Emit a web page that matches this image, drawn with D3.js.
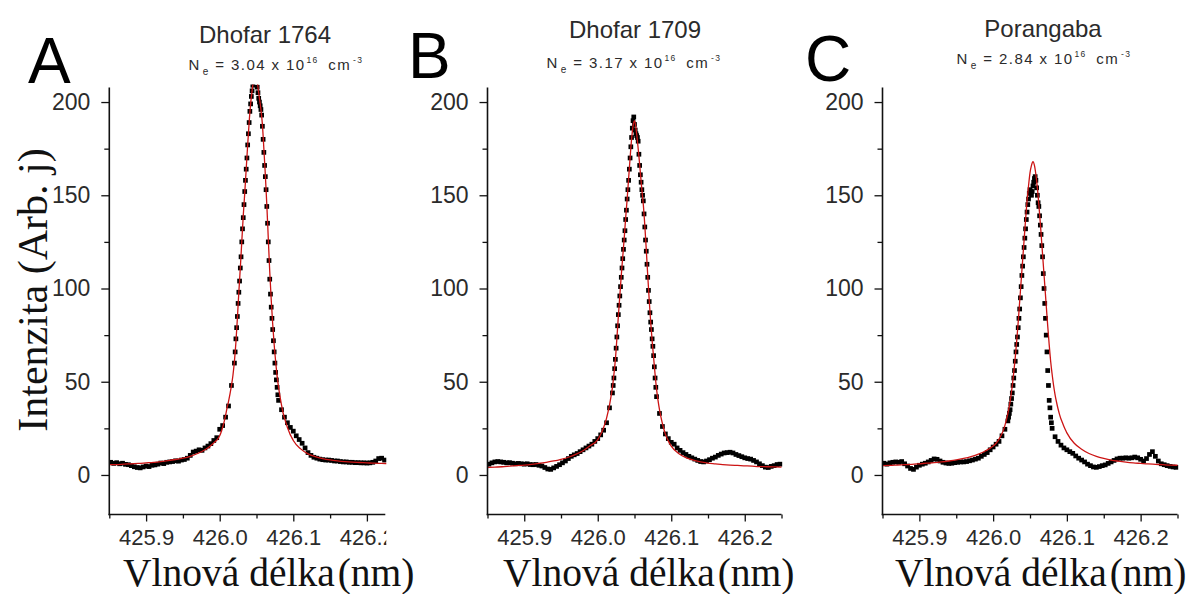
<!DOCTYPE html>
<html>
<head>
<meta charset="utf-8">
<script src="https://cdn.jsdelivr.net/npm/d3@7"></script>
<style>
  html, body { margin: 0; padding: 0; background: #fff; }
  svg { display: block; }
</style>
</head>
<body>
<svg id="chart" width="1203" height="594"></svg>
<script>
// ---- Measured spectra (Stark-broadened line near 426.05 nm) ----

// wavelength grid of the measured points (nm)
const wavelengthGrid = [
  425.848, 425.852, 425.856, 425.860, 425.864, 425.868, 425.872, 425.876, 425.880, 425.884,
  425.888, 425.892, 425.896, 425.900, 425.904, 425.908, 425.912, 425.916, 425.920, 425.924,
  425.928, 425.932, 425.936, 425.940, 425.944, 425.948, 425.952, 425.956, 425.960, 425.964,
  425.968, 425.972, 425.976, 425.980, 425.984, 425.988, 425.992, 425.996, 426.000, 426.004,
  426.008, 426.012, 426.016,
  426.020, 426.021, 426.022, 426.023, 426.024, 426.025, 426.026, 426.027, 426.028, 426.029,
  426.030, 426.031, 426.032, 426.033, 426.034, 426.035, 426.036, 426.037, 426.038, 426.039,
  426.040, 426.041, 426.042, 426.043, 426.044, 426.045, 426.046, 426.047, 426.048, 426.049,
  426.050, 426.051, 426.052, 426.053, 426.054, 426.055, 426.056, 426.057, 426.058, 426.059,
  426.060, 426.061, 426.062, 426.063, 426.064, 426.065, 426.066, 426.067, 426.068, 426.069,
  426.070, 426.071, 426.072, 426.073, 426.074, 426.075, 426.076, 426.077, 426.078, 426.079,
  426.080,
  426.084, 426.088, 426.092, 426.096, 426.100, 426.104, 426.108, 426.112, 426.116, 426.120,
  426.124, 426.128, 426.132, 426.136, 426.140, 426.144, 426.148, 426.152, 426.156, 426.160,
  426.164, 426.168, 426.172, 426.176, 426.180, 426.184, 426.188, 426.192, 426.196, 426.200,
  426.204, 426.208, 426.212, 426.216, 426.220, 426.224, 426.228, 426.232, 426.236, 426.240,
  426.244, 426.248
];

// Dhofar 1764
const intensityA = [
  6.5, 6.8, 6.2, 6.6, 6.0, 6.3, 5.7, 5.5, 5.0, 4.4, 4.0, 3.8, 4.3, 4.8, 4.5, 5.2, 5.4, 5.8, 6.4, 6.1,
  6.8, 7.0, 7.2, 7.6, 7.4, 8.0, 8.3, 9.0, 10.5, 12.3, 12.8, 13.5, 13.2, 14.5, 15.5, 16.8, 18.5, 20.0,
  24.5, 26.5, 31.0, 37.0, 48.0,
  60, 66, 73, 79, 85, 92, 98, 104, 111, 117, 125, 132, 138, 145, 152, 158, 164, 170, 177, 183,
  189, 195, 199, 203, 206, 209, 211, 213, 214, 213, 211, 208, 205, 202, 200, 198, 196, 193, 187, 180,
  173, 166, 160, 153, 144, 135, 125, 115, 105, 97, 90, 84, 78, 72, 66, 60, 55, 51, 47, 43,
  40,
  35, 31, 28, 25.5, 23.5, 21, 19, 17, 14.5, 12, 10.5, 9.5, 9.0, 8.5, 8.2, 8.0, 8.0, 7.8, 7.5, 7.5,
  7.2, 7.0, 7.0, 6.8, 6.8, 6.6, 6.6, 6.5, 6.5, 6.4, 6.5, 6.8, 7.5, 8.8, 9.0, 8.0
];

// Dhofar 1709
const intensityB = [
  5.5, 5.8, 6.5, 7.0, 7.2, 7.0, 6.8, 6.5, 6.6, 6.3, 6.0, 6.2, 6.0, 5.8, 6.0, 5.6, 5.5, 5.6, 5.2, 4.8,
  4.0, 3.2, 3.0, 3.8, 4.6, 5.5, 6.5, 7.5, 8.8, 10.0, 10.8, 11.5, 12.5, 13.5, 14.5, 15.5, 16.5, 18.0,
  19.5, 21.5, 24.0, 28.0, 36.0,
  44, 48, 52, 57, 62, 68, 74, 80, 86, 91, 96, 101, 106, 111, 116, 121, 126, 131, 137, 142,
  148, 153, 158, 164, 170, 176, 181, 186, 190, 192, 188, 185, 183, 182, 181, 179, 172, 166, 161, 157,
  153, 150, 147, 140, 133, 126, 120, 113, 106, 99, 93, 87, 82, 78, 73, 69, 64, 58, 52, 47,
  42,
  33, 26, 22, 19.5, 17.5, 16.5, 14.5, 13.2, 12.0, 11.0, 10.0, 9.2, 8.5, 7.8, 7.2, 7.0, 7.5, 8.2, 9.0, 9.6,
  10.5, 11.2, 11.8, 12.0, 12.2, 11.8, 11.0, 10.4, 9.8, 9.2, 8.8, 8.5, 7.8, 7.0, 6.0, 5.0, 4.2, 4.0, 4.6, 5.0,
  5.6, 5.8
];

// Porangaba
const intensityC = [
  6.0, 6.3, 5.8, 6.5, 6.8, 7.0, 6.8, 7.2, 6.0, 4.8, 3.5, 3.0, 4.2, 5.2, 5.8, 6.3, 7.0, 7.8, 8.6, 8.4,
  7.5, 6.8, 6.4, 6.2, 6.3, 6.6, 6.8, 7.0, 7.0, 7.2, 7.6, 8.0, 8.5, 9.0, 10.0, 11.0, 12.0, 13.5,
  15.0, 16.5, 18.0, 21.0, 24.5,
  29, 31, 33, 35, 38, 41, 44, 48, 52, 56, 61, 66, 70, 74, 79, 84, 89, 95, 101, 107,
  112, 117, 122, 127, 132, 137, 141, 145, 148, 151, 153, 152, 150, 152, 155, 157, 159, 160, 158, 154,
  150, 146, 144, 139, 134, 129, 123, 117, 108, 100, 92, 84, 75, 66, 56, 48, 40, 36, 31, 28,
  25,
  20.5, 18.0, 16.0, 14.5, 13.5, 12.5, 11.6, 10.2, 9.0, 8.0, 7.0, 5.8, 5.0, 4.3, 4.1, 4.5, 5.0, 5.4, 6.2, 7.0,
  7.8, 8.6, 9.0, 9.0, 9.2, 9.0, 9.2, 9.6, 9.2, 8.4, 7.5, 8.8, 11.0, 12.5, 10.0, 7.5, 6.0, 5.5, 5.0, 4.6,
  4.3, 4.1
];

// ---- Fitted line profiles ----
const fitGrid = [
  425.85, 425.86, 425.87, 425.88, 425.89, 425.90, 425.91, 425.92, 425.93, 425.94,
  425.95, 425.96, 425.97, 425.98, 425.99,
  426.000, 426.002, 426.004, 426.006, 426.008, 426.010, 426.012, 426.014, 426.016, 426.018,
  426.020, 426.022, 426.024, 426.026, 426.028, 426.030, 426.032, 426.034, 426.036, 426.038,
  426.040, 426.042, 426.044, 426.046, 426.048, 426.050, 426.052, 426.054, 426.056, 426.058,
  426.060, 426.062, 426.064, 426.066, 426.068, 426.070, 426.072, 426.074, 426.076, 426.078,
  426.080, 426.082, 426.084, 426.086, 426.088, 426.090, 426.092, 426.094, 426.096, 426.098,
  426.100,
  426.11, 426.12, 426.13, 426.14, 426.15, 426.16, 426.17, 426.18, 426.19, 426.20,
  426.21, 426.22, 426.23, 426.24, 426.25
];

const fitA = [
  5.5, 5.6, 5.8, 6.0, 6.2, 6.5, 6.8, 7.2, 7.7, 8.3, 9.0, 10.0, 11.5, 13.5, 16.5,
  21, 23, 25.5, 28.5, 32, 36, 39.5, 43.5, 48, 53.5,
  61, 71, 84, 98, 111, 125, 139, 151, 164, 177,
  189, 199, 206, 212, 216, 214, 208, 202, 196, 188,
  175, 161, 145, 127, 109, 94, 81, 70, 61, 53,
  47, 42, 37.5, 33.5, 30.5, 28, 25.5, 23.5, 21.5, 20,
  18.5,
  14, 11.3, 9.8, 8.8, 8.1, 7.6, 7.2, 6.9, 6.7, 6.5, 6.3, 6.2, 6.1
];

const fitB = [
  4.0, 4.2, 4.4, 4.7, 5.0, 5.3, 5.7, 6.2, 6.8, 7.5, 8.4, 9.5, 11.0, 13.0, 15.8,
  19.0, 20.3, 21.8, 23.5, 25.5, 27.8, 30.5, 33.8, 37.5, 42,
  47, 54, 62, 73, 85, 96, 107, 117, 127, 138,
  148, 159, 170, 180, 187, 190, 186, 179, 171, 162,
  153, 145, 134, 121, 107, 94, 82, 72, 63, 54,
  46, 40, 35, 31, 27.5, 24.5, 22, 20, 18.3, 16.8,
  15.5,
  11.5, 9.3, 8.0, 7.0, 6.4, 6.0, 5.6, 5.3, 5.1, 4.9, 4.7, 4.5, 4.4, 4.3, 4.2
];

const fitC = [
  5.0, 5.1, 5.3, 5.5, 5.7, 6.0, 6.3, 6.6, 7.0, 7.5, 8.1, 8.9, 9.9, 11.2, 13.0,
  15.5, 16.2, 17.0, 18.0, 19.2, 20.6, 22.2, 24.2, 26.6, 29.5,
  33, 37, 42, 48, 55, 63, 72, 82, 93, 104,
  115, 126, 137, 147, 155, 162, 166, 168, 166, 161,
  154, 145, 135, 124, 113, 102, 91, 80, 70, 61,
  54, 48, 43, 39, 35.5, 32.5, 30, 28, 26, 24.2,
  22.6,
  17, 13.8, 11.5, 10.0, 8.9, 8.0, 7.4, 6.9, 6.5, 6.2, 5.9, 5.7, 5.5, 5.3, 5.2
];

// ---- Labels and ticks ----
const panelLetters = ["A", "B", "C"];
const sampleNames = ["Dhofar 1764", "Dhofar 1709", "Porangaba"];
const electronDensity = ["3.04", "3.17", "2.84"];
const xTicks = [425.9, 426.0, 426.1, 426.2];
const xMinorTicks = [425.85, 425.95, 426.05, 426.15, 426.25];
const yTicks = [0, 50, 100, 150, 200];
const yMinorTicks = [25, 75, 125, 175];
const xTitle = "Vlnová délka";
const xUnit = "(nm)";
const yTitle = "Intenzita (Arb. j)";

// ---- Layout ----
const SANS = "'Liberation Sans', Arial, sans-serif";
const SERIF = "'Liberation Serif', 'Times New Roman', serif";
const PLOT_TOP = 87.5, PLOT_BOTTOM = 514.5;
const Y_DOMAIN = [-21.2, 207.8];
const X_START = 425.85;
const AXIS_COLOR = "#111";
const TEXT_COLOR = "#2b2b2b";

const layout = [
  { left: 109.3, right: 385.3, xEnd: 426.225, titleX: 265, titleY: 43, subX: 276, subY: 70,
    letterX: 28, letterY: 83, labelX: 123, clipTicks: true },
  { left: 487.5, right: 781.5, xEnd: 426.25, titleX: 635, titleY: 38, subX: 634, subY: 68,
    letterX: 408, letterY: 78, labelX: 503, clipTicks: false },
  { left: 882.5, right: 1177.5, xEnd: 426.25, titleX: 1043, titleY: 37, subX: 1044, subY: 64,
    letterX: 805, letterY: 80.5, labelX: 895, clipTicks: false }
];

const series = [
  { intensity: intensityA, fit: fitA },
  { intensity: intensityB, fit: fitB },
  { intensity: intensityC, fit: fitC }
];

const svg = d3.select("#chart");
svg.append("rect").attr("width", 1203).attr("height", 594).attr("fill", "#fff");
const defs = svg.append("defs");

layout.forEach((L, i) => {
  const g = svg.append("g").attr("class", "panel panel-" + panelLetters[i]);

  const x = d3.scaleLinear().domain([X_START, L.xEnd]).range([L.left, L.right]);
  const y = d3.scaleLinear().domain(Y_DOMAIN).range([PLOT_BOTTOM, PLOT_TOP]);

  // clip for the plotted data
  const clipId = "plot-clip-" + i;
  defs.append("clipPath").attr("id", clipId)
    .append("rect")
    .attr("x", L.left).attr("y", PLOT_TOP - 3)
    .attr("width", L.right - L.left + 1).attr("height", PLOT_BOTTOM - PLOT_TOP + 3);

  // measured points
  const points = wavelengthGrid
    .map((w, k) => ({ w, v: series[i].intensity[k] }))
    .filter(d => d.v !== undefined);
  const size = 4.7;
  g.append("g").attr("clip-path", `url(#${clipId})`)
    .selectAll("rect")
    .data(points)
    .join("rect")
    .attr("x", d => x(d.w) - size / 2)
    .attr("y", d => y(d.v) - size / 2)
    .attr("width", size)
    .attr("height", size)
    .attr("fill", "#000");

  // fitted profile
  const fitPts = fitGrid
    .map((w, k) => ({ w, v: series[i].fit[k] }))
    .filter(d => d.v !== undefined);
  const line = d3.line().x(d => x(d.w)).y(d => y(d.v)).curve(d3.curveMonotoneX);
  g.append("path")
    .attr("clip-path", `url(#${clipId})`)
    .datum(fitPts)
    .attr("d", line)
    .attr("fill", "none")
    .attr("stroke", "#cc1414")
    .attr("stroke-width", 1.3);

  // x axis ticks
  const xAxisG = g.append("g").attr("transform", `translate(0,${PLOT_BOTTOM})`);
  if (L.clipTicks) {
    const tickClip = "tick-clip-" + i;
    defs.append("clipPath").attr("id", tickClip)
      .append("rect").attr("x", 0).attr("y", -5).attr("width", L.right + 1).attr("height", 60);
    xAxisG.attr("clip-path", `url(#${tickClip})`);
  }
  xAxisG.append("g")
    .call(d3.axisBottom(x).tickValues(xMinorTicks.filter(t => t <= L.xEnd + 1e-9))
      .tickSize(4).tickSizeOuter(0).tickFormat(""))
    .call(a => a.select(".domain").remove());
  xAxisG.append("g")
    .call(d3.axisBottom(x).tickValues(xTicks).tickSize(7).tickSizeOuter(0)
      .tickPadding(8).tickFormat(d3.format(".1f")))
    .call(a => a.select(".domain").remove());
  xAxisG.selectAll(".tick line").attr("stroke", AXIS_COLOR).attr("stroke-width", 1.3);
  xAxisG.selectAll(".tick text")
    .attr("fill", TEXT_COLOR)
    .style("font-family", SANS).style("font-size", "22px");

  // y axis ticks
  const yAxisG = g.append("g").attr("transform", `translate(${L.left},0)`);
  yAxisG.append("g")
    .call(d3.axisLeft(y).tickValues(yMinorTicks).tickSize(5).tickSizeOuter(0).tickFormat(""))
    .call(a => a.select(".domain").remove());
  yAxisG.append("g")
    .call(d3.axisLeft(y).tickValues(yTicks).tickSize(8).tickSizeOuter(0).tickPadding(11))
    .call(a => a.select(".domain").remove());
  yAxisG.selectAll(".tick line").attr("stroke", AXIS_COLOR).attr("stroke-width", 1.3);
  yAxisG.selectAll(".tick text")
    .attr("fill", TEXT_COLOR)
    .style("font-family", SANS).style("font-size", "23px");

  // axis lines
  g.append("line")
    .attr("x1", L.left).attr("x2", L.left)
    .attr("y1", PLOT_TOP).attr("y2", PLOT_BOTTOM + 0.8)
    .attr("stroke", AXIS_COLOR).attr("stroke-width", 1.6);
  g.append("line")
    .attr("x1", L.left - 0.8).attr("x2", L.right)
    .attr("y1", PLOT_BOTTOM).attr("y2", PLOT_BOTTOM)
    .attr("stroke", AXIS_COLOR).attr("stroke-width", 1.6);

  // panel letter
  g.append("text")
    .attr("x", L.letterX).attr("y", L.letterY)
    .attr("fill", "#000")
    .style("font-family", SANS).style("font-size", "64px")
    .text(panelLetters[i]);

  // sample title
  g.append("text")
    .attr("x", L.titleX).attr("y", L.titleY)
    .attr("text-anchor", "middle")
    .attr("fill", TEXT_COLOR)
    .style("font-family", SANS).style("font-size", "24px")
    .text(sampleNames[i]);

  // electron density
  const sub = g.append("text")
    .attr("x", L.subX).attr("y", L.subY)
    .attr("text-anchor", "middle")
    .attr("fill", TEXT_COLOR)
    .attr("letter-spacing", 1.4)
    .style("font-family", SANS).style("font-size", "15px");
  sub.append("tspan").text("N");
  sub.append("tspan").attr("dx", 2).attr("dy", 5).style("font-size", "10px").text("e");
  sub.append("tspan").attr("dy", -5).text(" = " + electronDensity[i] + " x 10");
  sub.append("tspan").attr("dx", 1).attr("dy", -7).style("font-size", "8.5px").text("16");
  sub.append("tspan").attr("dx", 4).attr("dy", 7).text(" cm");
  sub.append("tspan").attr("dx", 2).attr("dy", -7).style("font-size", "8.5px").text("-3");

  // x axis title
  const xt = g.append("text")
    .attr("x", L.labelX).attr("y", 585.5)
    .attr("fill", "#111")
    .style("font-family", SERIF).style("font-size", "39.5px");
  xt.append("tspan").text(xTitle);
  xt.append("tspan").attr("dx", 3).text(xUnit);
});

// y axis title
svg.append("text")
  .attr("transform", "translate(47,290) rotate(-90)")
  .attr("text-anchor", "middle")
  .attr("fill", "#111")
  .style("font-family", SERIF).style("font-size", "42px")
  .text(yTitle);
</script>
</body>
</html>
